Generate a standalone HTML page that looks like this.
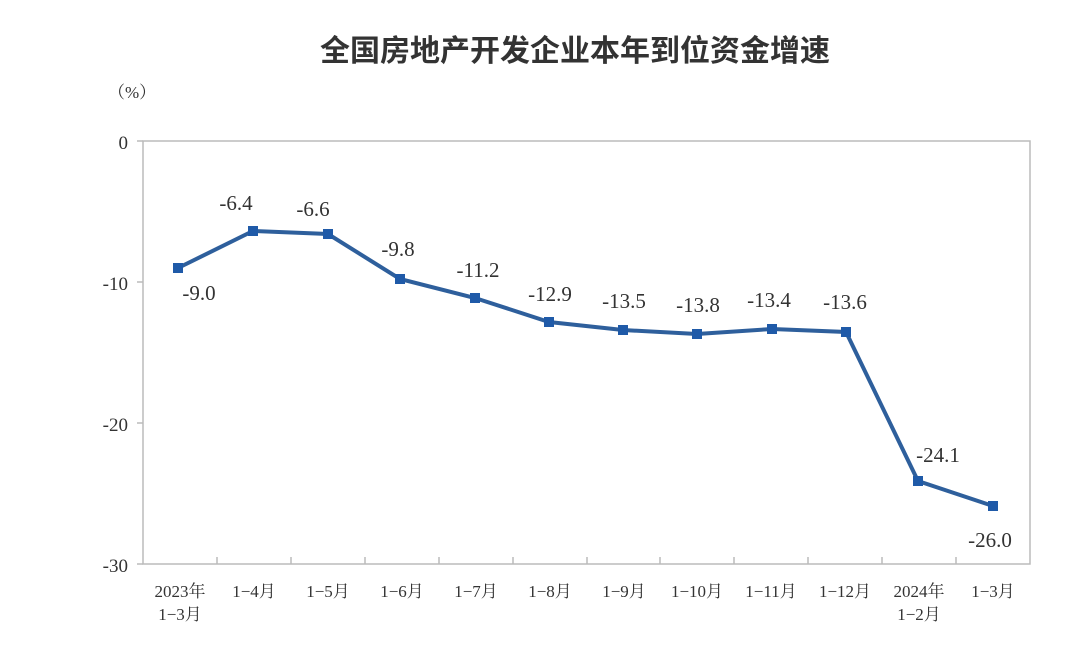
<!DOCTYPE html>
<html><head><meta charset="utf-8"><style>
body{margin:0;background:#fff;}
svg text{font-family:"Liberation Serif","Noto Serif CJK SC",serif;fill:#333;}
</style></head><body>
<svg width="1080" height="655" xmlns="http://www.w3.org/2000/svg">
<text x="575" y="61" text-anchor="middle" font-size="30" font-weight="bold" style="font-family:'Noto Sans CJK SC',sans-serif" fill="#222">全国房地产开发企业本年到位资金增速</text>
<text x="108" y="98" font-size="17">（%）</text>
<rect x="143" y="141" width="887" height="423" fill="none" stroke="#bbb" stroke-width="1.5"/>
<g stroke="#bbb" stroke-width="1.5">
<line x1="137" y1="141" x2="143" y2="141"/><line x1="137" y1="282" x2="143" y2="282"/><line x1="137" y1="423" x2="143" y2="423"/><line x1="137" y1="564" x2="143" y2="564"/>
<line x1="217" y1="564" x2="217" y2="557"/><line x1="291" y1="564" x2="291" y2="557"/><line x1="365" y1="564" x2="365" y2="557"/><line x1="439" y1="564" x2="439" y2="557"/><line x1="513" y1="564" x2="513" y2="557"/><line x1="587" y1="564" x2="587" y2="557"/><line x1="660" y1="564" x2="660" y2="557"/><line x1="734" y1="564" x2="734" y2="557"/><line x1="808" y1="564" x2="808" y2="557"/><line x1="882" y1="564" x2="882" y2="557"/><line x1="956" y1="564" x2="956" y2="557"/>
</g>
<g font-size="19" text-anchor="end">
<text x="128" y="149">0</text><text x="128" y="290">-10</text><text x="128" y="431">-20</text><text x="128" y="572">-30</text>
</g>
<polyline fill="none" stroke="#2e5f9c" stroke-width="4" points="178,268 253,231 328,234 400,279 475,298 549,322 623,330 697,334 772,329 846,332 918,481 993,506"/>
<g fill="#1f5aa8">
<rect x="173" y="263" width="10" height="10"/><rect x="248" y="226" width="10" height="10"/><rect x="323" y="229" width="10" height="10"/><rect x="395" y="274" width="10" height="10"/><rect x="470" y="293" width="10" height="10"/><rect x="544" y="317" width="10" height="10"/><rect x="618" y="325" width="10" height="10"/><rect x="692" y="329" width="10" height="10"/><rect x="767" y="324" width="10" height="10"/><rect x="841" y="327" width="10" height="10"/><rect x="913" y="476" width="10" height="10"/><rect x="988" y="501" width="10" height="10"/>
</g>
<g font-size="21" text-anchor="middle">
<text x="199" y="300">-9.0</text><text x="236" y="210">-6.4</text><text x="313" y="216">-6.6</text><text x="398" y="256">-9.8</text><text x="478" y="277">-11.2</text><text x="550" y="301">-12.9</text><text x="624" y="308">-13.5</text><text x="698" y="312">-13.8</text><text x="769" y="307">-13.4</text><text x="845" y="309">-13.6</text><text x="938" y="462">-24.1</text><text x="990" y="547">-26.0</text>
</g>
<g font-size="17" text-anchor="middle">
<text x="180" y="597">2023年</text><text x="180" y="620">1−3月</text>
<text x="254" y="597">1−4月</text><text x="328" y="597">1−5月</text><text x="402" y="597">1−6月</text><text x="476" y="597">1−7月</text><text x="550" y="597">1−8月</text><text x="624" y="597">1−9月</text><text x="697" y="597">1−10月</text><text x="771" y="597">1−11月</text><text x="845" y="597">1−12月</text>
<text x="919" y="597">2024年</text><text x="919" y="620">1−2月</text><text x="993" y="597">1−3月</text>
</g>
</svg>
</body></html>
